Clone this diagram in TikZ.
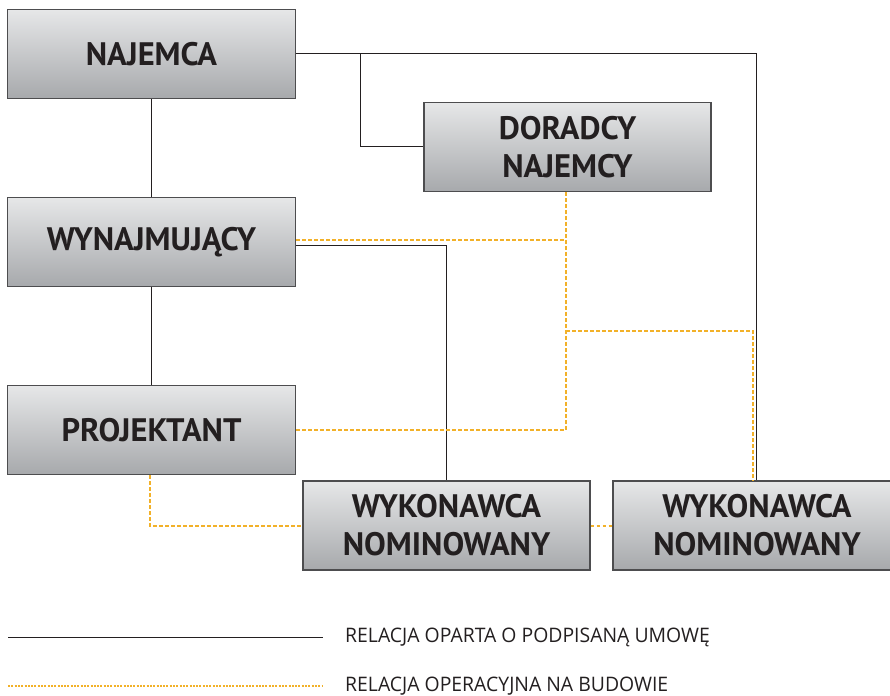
\documentclass[tikz,border=0pt]{standalone}
\usepackage{fontspec}
\setmainfont{PT Sans}
\newfontfamily\legendfont[FakeStretch=0.97]{Open Sans}
\definecolor{ink}{HTML}{231F20}
\definecolor{frame}{HTML}{4D4D4F}
\definecolor{boxtop}{HTML}{E6E7E8}
\definecolor{boxbot}{HTML}{A7A9AC}
\definecolor{site}{HTML}{F2B129}
\begin{document}
\begin{tikzpicture}[x=1pt,y=-1pt,
  party/.style={draw=frame, line width=1.3pt, top color=boxtop, bottom color=boxbot,
    minimum width=288pt, minimum height=89pt, inner sep=0pt, text=ink, align=center,
    font=\bfseries\fontsize{32.5}{38}\selectfont},
  contract/.style={draw=ink, line width=1pt},
  onsite/.style={draw=site, line width=1.5pt, dash pattern=on 3.5pt off 2.5pt},
  onsitekey/.style={draw=site, line width=1.4pt, dash pattern=on 2pt off 1.3pt},
  keytext/.style={anchor=west, inner sep=0pt, text=ink, font=\legendfont\fontsize{20}{22}\selectfont},
]
\useasboundingbox (0,0) rectangle (890,695);

% parties
\node[party] (naj) at (151.5,54) {NAJEMCA};
\node[party, minimum width=287pt] (dor) at (567.5,147) {DORADCY\\NAJEMCY};
\node[party] (wyn) at (151.5,242) {WYNAJMUJĄCY};
\node[party] (proj) at (151.5,430) {PROJEKTANT};
\node[party, minimum width=287pt] (wyk1) at (446.5,525.5) {WYKONAWCA\\NOMINOWANY};
\node[party] (wyk2) at (757,525.5) {WYKONAWCA\\NOMINOWANY};

% contract relations
\coordinate (split) at (360,0);
\draw[contract] (naj.south) -- (wyn.north);
\draw[contract] (wyn.south) -- (proj.north);
\draw[contract] (naj.east) -| ([xshift=-1pt]wyk2.north);
\draw[contract] (naj.east -| split) |- (dor.west);
\draw[contract] ([yshift=-3pt]wyn.east) -| (wyk1.north);

% on-site relations
\coordinate (tap) at (0,331);
\coordinate (drop) at ([xshift=-1.5pt]dor.south);
\draw[onsite] (drop) -- (drop |- proj.east) -- (proj.east);
\draw[onsite] ([yshift=2pt]wyn.east) -- ([yshift=2pt]wyn.east -| drop);
\draw[onsite] (drop |- tap) -| ([xshift=-4pt]wyk2.north);
\draw[onsite] ([xshift=-1.5pt]proj.south) |- ([yshift=-0.5pt]wyk1.west);
\draw[onsite] ([yshift=-0.5pt]wyk1.east) -- ([yshift=-0.5pt]wyk2.west);

% key
\node[keytext] (k1) at (345,637) {RELACJA OPARTA O PODPISANĄ UMOWĘ};
\node[keytext] (k2) at (345,686) {RELACJA OPERACYJNA NA BUDOWIE};
\coordinate (k1s) at (8,637);
\coordinate (k2s) at (8,686);
\draw[contract] (k1s) -- ([xshift=-22pt]k1.west);
\draw[onsitekey] (k2s) -- ([xshift=-22pt]k2.west);
\end{tikzpicture}
\end{document}
